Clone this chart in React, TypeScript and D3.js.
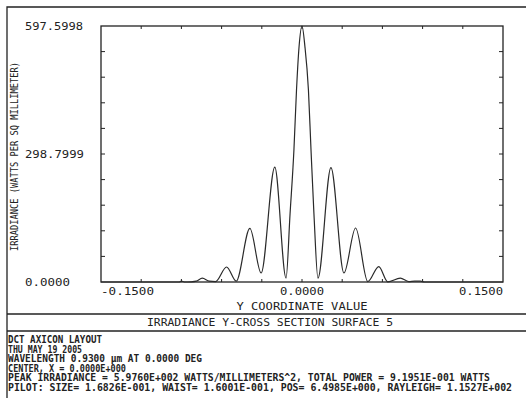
import React from "react";
import * as d3 from "d3";

// Y-cross section of the irradiance (mm vs W/mm^2)
const Y_POS = [
  -0.15, -0.0915, -0.09, -0.0878, -0.0826, -0.0789, -0.0744, -0.0692, -0.0645,
  -0.0563, -0.0491, -0.0389, -0.0305, -0.0203, -0.0119, -0.0089, -0.006,
  -0.0041, -0.0022, 0, 0.0022, 0.0048, 0.0067, 0.0089, 0.0119, 0.0216, 0.0313,
  0.04, 0.0491, 0.0573, 0.064, 0.0734, 0.0796, 0.0841, 0.0883, 0.0915, 0.15,
];
const IRRADIANCE = [
  0, 0, 2, 0, 0.5, 2, 9, 2, 1, 35, 2, 125, 21, 268, 9, 160, 310, 448, 549,
  597.5998, 549, 448, 310, 160, 9, 267, 21, 126, 1, 36, 0.5, 9, 1, 2, 2, 0, 0,
];

const X_DOMAIN = [-0.15, 0.15];
const Y_DOMAIN = [0, 597.5998];
const X_TICK_LABELS = ["-0.1500", "0.0000", "0.1500"];
const Y_TICK_LABELS = ["597.5998", "298.7999", "0.0000"];
const TICK_DIVISIONS = 10;

const Y_TITLE = "IRRADIANCE (WATTS PER SQ MILLIMETER)";
const X_TITLE = "Y COORDINATE VALUE";
const PLOT_TITLE = "IRRADIANCE Y-CROSS SECTION SURFACE 5";
const INFO_LINES = [
  "DCT AXICON LAYOUT",
  "THU MAY 19 2005",
  "WAVELENGTH 0.9300 \u00b5m AT 0.0000 DEG",
  "CENTER, X = 0.0000E+000",
  "PEAK IRRADIANCE = 5.9760E+002 WATTS/MILLIMETERS^2, TOTAL POWER = 9.1951E-001 WATTS",
  "PILOT: SIZE= 1.6826E-001, WAIST= 1.6001E-001, POS= 6.4985E+000, RAYLEIGH= 1.1527E+002",
];
const INFO_WIDTHS = [94, 74, 194, 118, 482, 504];

const W = 526;
const H = 398;
const FONT = "'DejaVu Sans Mono', monospace";
const INK = "#222";

export default function App() {
  const left = 101;
  const right = 503;
  const top = 26;
  const bottom = 282;

  const x = d3.scaleLinear().domain(X_DOMAIN).range([left, right]);
  const y = d3.scaleLinear().domain(Y_DOMAIN).range([bottom, top]);

  const line = d3
    .line<number>()
    .x((_, i) => x(Y_POS[i]))
    .y((d) => y(d))
    .curve(d3.curveMonotoneX);

  const xTicks = d3.range(TICK_DIVISIONS + 1).map(
    (i) => X_DOMAIN[0] + ((X_DOMAIN[1] - X_DOMAIN[0]) * i) / TICK_DIVISIONS
  );
  const yTicks = d3.range(TICK_DIVISIONS + 1).map(
    (i) => Y_DOMAIN[0] + ((Y_DOMAIN[1] - Y_DOMAIN[0]) * i) / TICK_DIVISIONS
  );

  const yLabelVals = [Y_DOMAIN[1], (Y_DOMAIN[0] + Y_DOMAIN[1]) / 2, Y_DOMAIN[0]];
  const yLabelW = [58, 59, 45];
  const xLabelVals = [X_DOMAIN[0], 0, X_DOMAIN[1]];
  const xLabelAnchor = ["start", "middle", "end"];

  const line1 = 314;
  const line2 = 331;

  return (
    <svg
      width={W}
      height={H}
      style={{ position: "absolute", left: 0, top: 0, background: "#fff" }}
    >
      <rect x={0} y={0} width={W} height={H} fill="#fff" />
      {/* outer frame */}
      <path
        d={`M7,${H + 2} V7 H${W + 2}`}
        fill="none"
        stroke={INK}
        strokeWidth={1.3}
      />
      <line x1={7} x2={W} y1={line1} y2={line1} stroke={INK} strokeWidth={1.3} />
      <line x1={7} x2={W} y1={line2} y2={line2} stroke={INK} strokeWidth={1.3} />

      {/* plot frame */}
      <rect
        x={left}
        y={top}
        width={right - left}
        height={bottom - top}
        fill="none"
        stroke={INK}
        strokeWidth={1.3}
      />
      {xTicks.slice(1, -1).map((t, i) => (
        <g key={`xt${i}`} stroke={INK} strokeWidth={1}>
          <line x1={x(t)} x2={x(t)} y1={top} y2={top + 3} />
          <line x1={x(t)} x2={x(t)} y1={bottom} y2={bottom - 3} />
        </g>
      ))}
      {yTicks.slice(1, -1).map((t, i) => (
        <g key={`yt${i}`} stroke={INK} strokeWidth={1}>
          <line x1={left} x2={left + 4} y1={y(t)} y2={y(t)} />
          <line x1={right} x2={right - 4} y1={y(t)} y2={y(t)} />
        </g>
      ))}

      {/* irradiance profile */}
      <path
        d={line(IRRADIANCE) || ""}
        fill="none"
        stroke="#2a2a2a"
        strokeWidth={1.2}
        strokeLinejoin="round"
      />

      <g fontFamily={FONT} fill={INK}>
        {Y_TICK_LABELS.map((s, i) => (
          <text
            key={`yl${i}`}
            x={25}
            y={y(yLabelVals[i]) + 4}
            fontSize={11}
            textLength={yLabelW[i]}
            lengthAdjust="spacingAndGlyphs"
          >
            {s}
          </text>
        ))}
        {X_TICK_LABELS.map((s, i) => (
          <text
            key={`xl${i}`}
            x={x(xLabelVals[i])}
            y={295}
            fontSize={10}
            textAnchor={xLabelAnchor[i]}
            textLength={i === 0 ? 53 : 44}
            lengthAdjust="spacingAndGlyphs"
          >
            {s}
          </text>
        ))}
        <text
          transform={`translate(18,${(62 + 251) / 2}) rotate(-90)`}
          textAnchor="middle"
          fontSize={10}
          textLength={189}
          lengthAdjust="spacingAndGlyphs"
        >
          {Y_TITLE}
        </text>
        <text
          x={x(0)}
          y={309.5}
          textAnchor="middle"
          fontSize={10.5}
          textLength={131}
          lengthAdjust="spacingAndGlyphs"
        >
          {X_TITLE}
        </text>
        <text
          x={270}
          y={326}
          textAnchor="middle"
          fontSize={10.5}
          textLength={246}
          lengthAdjust="spacingAndGlyphs"
        >
          {PLOT_TITLE}
        </text>
        {INFO_LINES.map((s, i) => (
          <text
            key={`info${i}`}
            x={8}
            y={343 + i * 9.6}
            fontSize={10}
            fontWeight="bold"
            textLength={INFO_WIDTHS[i]}
            lengthAdjust="spacingAndGlyphs"
          >
            {s}
          </text>
        ))}
      </g>
    </svg>
  );
}
